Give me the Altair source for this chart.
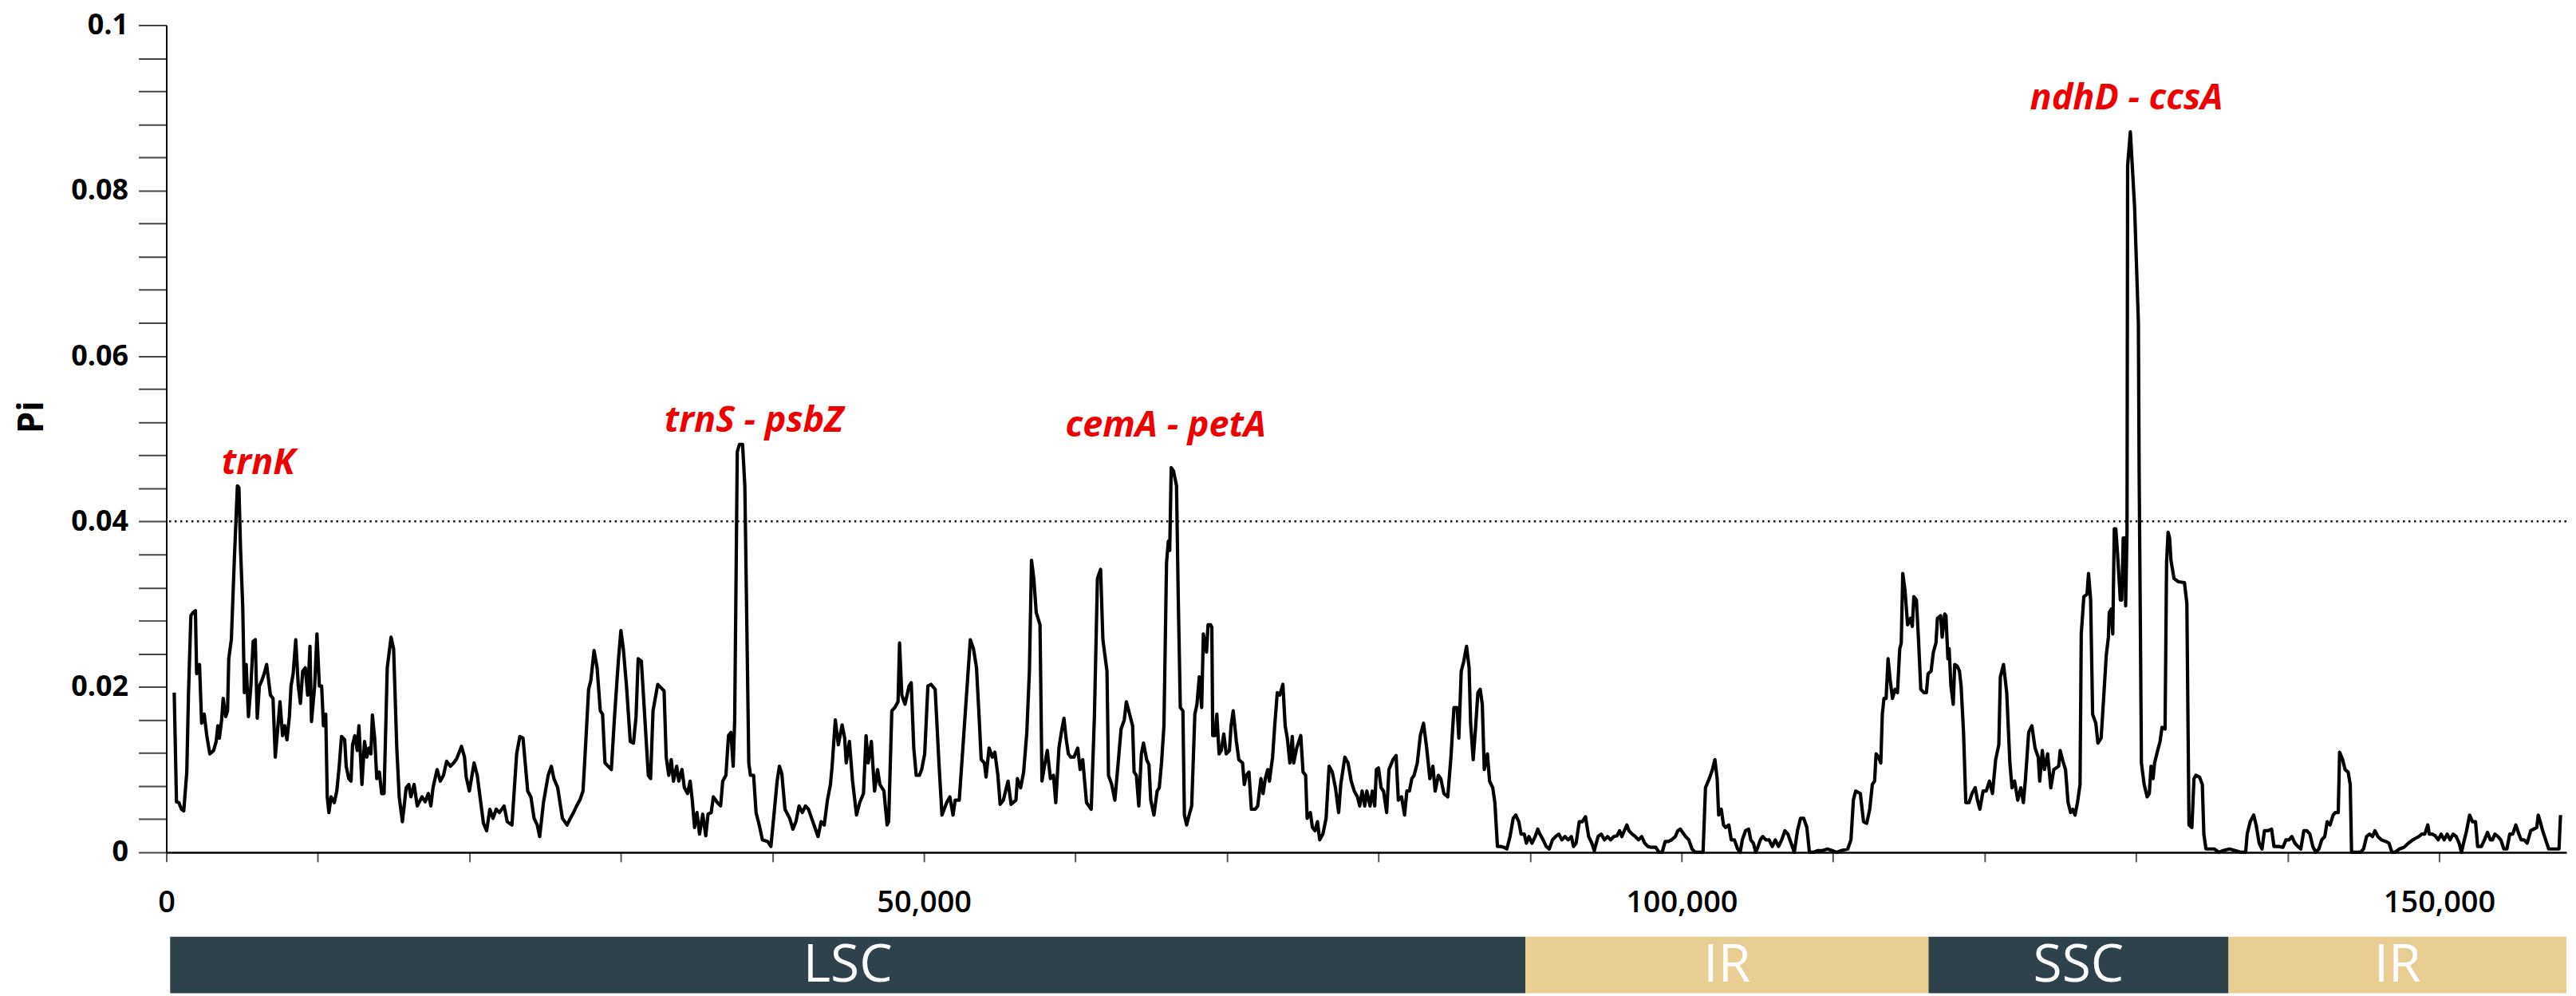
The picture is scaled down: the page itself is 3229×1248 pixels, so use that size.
import altair as alt
import pandas as pd

# ---------------- data (position in bp, nucleotide diversity Pi) ----------------
lsc_pos = [520, 670, 830, 1000, 1150, 1350, 1460, 1620, 1770, 1920, 2000, 2190, 2330, 2500, 2670, 2870, 3120, 3290, 3400, 3500,
           3650, 3750, 3920, 4040, 4120, 4290, 4480, 4690, 4790, 4900, 5040, 5150, 5270, 5420, 5580, 5730, 5870, 6000, 6140, 6310,
           6460, 6620, 6870, 7040, 7190, 7500, 7670, 7810, 7960, 8120, 8230, 8370, 8540, 8710, 8850, 9000, 9170, 9330, 9480, 9580,
           9790, 9940, 10100, 10250, 10370, 10520, 10620, 10730, 10870, 11080, 11250, 11410, 11560, 11770, 11870, 12040, 12190, 12290, 12440, 12600,
           12710, 12910, 13080, 13230, 13370, 13500, 13600, 13750, 13890, 14060, 14210, 14370, 14580, 14830, 15000, 15210, 15370, 15580, 15830, 16000,
           16140, 16350, 16560, 16870, 17080, 17290, 17460, 17600, 17870, 18080, 18290, 18500, 18750, 18960, 19160, 19480, 19680, 19790, 20000, 20310,
           20520, 20730, 20930, 21140, 21350, 21560, 21770, 21980, 22290, 22500, 22810, 23120, 23330, 23540, 23850, 24060, 24270, 24480, 24640, 24890,
           25200, 25410, 25580, 25830, 26140, 26450, 26660, 26870, 27080, 27290, 27500, 27660, 27870, 28020, 28230, 28430, 28640, 28790, 28950, 29160,
           29370, 29580, 29830, 30000, 30160, 30370, 30620, 30830, 31000, 31140, 31350,
           31810, 31960, 32120, 32430, 32640, 32850, 32990, 33160, 33320, 33470, 33680, 33820, 34030, 34190, 34400, 34570, 34710, 34860, 35020, 35190,
           35400, 35600, 35750, 35960, 36100, 36370, 36580, 36720, 36930, 37100, 37260, 37410, 37510, 37680, 37820, 38030, 38180, 38340, 38440, 38550,
           38760, 38920, 39130, 39340, 39690, 39900, 40100, 40310, 40460, 40620, 40830, 41140, 41350, 41550, 41760, 41970, 42180, 42380, 42590, 42800,
           43010, 43210, 43420, 43630, 43830, 43940, 44150, 44350, 44600, 44770, 44870, 45080, 45290, 45550, 45760, 46010, 46180, 46320, 46530, 46740,
           46940, 47090, 47360, 47570, 47670, 47880, 48080, 48290, 48390, 48540, 48750, 49020, 49160, 49330, 49490, 49700, 49850, 50050, 50260, 50470,
           50740, 50990, 51190, 51500, 51710, 51920, 52060, 52330, 52640, 52850, 53060, 53270, 53470, 53640, 53780, 53990, 54100, 54300, 54510, 54680,
           54880, 55030, 55240, 55550, 55750, 56070, 56170, 56380, 56580, 56790, 56960, 57100, 57250, 57410, 57660, 57790, 57990, 58140, 58350, 58550,
           58700, 58910, 59070, 59240, 59380, 59530, 59690, 59900, 60150, 60310, 60480, 60730, 61040, 61250, 61450, 61660, 61810, 62080, 62180, 62390,
           62600, 62800, 63010, 63220, 63360,
           63770, 63870, 64020, 64180, 64350, 64490, 64700, 64850, 64970, 65180, 65390, 65530, 65680, 65840, 66010, 66130, 66220, 66320, 66470, 66670,
           66780, 66920, 67090, 67190, 67340, 67500, 67670, 67880, 68020, 68170, 68330, 68440, 68650, 68750, 68920, 69000, 69060, 69210, 69330, 69480,
           69620, 69790, 69950, 70160, 70270, 70410, 70620, 70780, 71030, 71140, 71280, 71450, 71610, 71860, 72030, 72240, 72380, 72530, 72690, 72800,
           73010, 73150, 73320, 73480, 73690, 73840, 73980, 74150, 74310, 74400, 74600, 74870, 75020, 75190, 75290, 75500, 75640, 75810, 75970, 76120,
           76330, 76540, 76740, 76950, 77160, 77370, 77510, 77780, 77990, 78200, 78400, 78610, 78760, 78920, 79090, 79230, 79440, 79590, 79750, 79860,
           80000, 80170, 80330, 80540, 80690, 80960, 81160, 81310, 81520, 81720, 81870, 82040, 82200, 82350, 82560, 82760, 82970, 83180, 83390, 83590,
           83740, 83950, 84110, 84320, 84570, 84780, 84980, 85190, 85300, 85460, 85630, 85810, 85980, 86080, 86250, 86400, 86560, 86710, 86850, 86980,
           87190, 87330, 87540, 87680, 87850, 88060, 88270, 88470, 88680, 88890, 89060, 89260, 89410, 89620]
lsc_pi = [.0193, .0061, .006, .0052, .005, .0097, .019, .0286, .029, .0292, .0216, .0227, .0156, .0167, .0141, .0119, .0123, .0134, .0153, .0138,
          .016, .0186, .0164, .0171, .0234, .0257, .035, .0443, .0441, .0365, .0298, .0193, .0227, .0164, .0201, .0255, .0257, .0162, .0201, .0208,
          .0216, .0227, .019, .0186, .0115, .0182, .0141, .0153, .0136, .0164, .0201, .0216, .0257, .0201, .018, .0219, .0223, .019, .0249, .0158,
          .0201, .0264, .0201, .0201, .0153, .0167, .0067, .0048, .0067, .006, .0074, .0104, .014, .0136, .0104, .0089, .0086, .013, .0141, .0123,
          .0153, .0082, .0134, .0115, .0126, .0119, .0166, .0138, .0089, .0097, .0071, .0071, .0223, .026, .0246, .0126, .0067, .0037, .0078, .0082,
          .0067, .0082, .0056, .0067, .0061, .0071, .0056, .0078, .01, .0086, .0093, .011, .0104, .0108, .0113, .0128, .0115, .0091, .0074, .0108,
          .0093, .0063, .0035, .0026, .0052, .0041, .0052, .0048, .0056, .0037, .0033, .0119, .014, .0138, .0074, .0067, .0041, .0033, .0019, .006,
          .0093, .0104, .0089, .0078, .0041, .0033, .0041, .0048, .0056, .0063, .0074, .0126, .0197, .0208, .0244, .0223, .0171, .0167, .0108, .0104,
          .01, .0164, .0231, .0268, .0246, .0201, .0134, .0132, .0164, .0234, .0231,
          .0093, .0089, .0171, .0203, .0199, .0195, .0115, .0093, .0112, .0086, .0104, .0086, .01, .0078, .0071, .0086, .0063, .003, .0048, .0022,
          .0046, .002, .0046, .0048, .0067, .006, .0056, .0086, .0093, .0141, .0145, .0104, .016, .0484, .0493, .0493, .0443, .0238, .0108, .0093,
          .0093, .0048, .0033, .0015, .0013, .0007, .0045, .0086, .0104, .0095, .0052, .0041, .0028, .0037, .0056, .0048, .0056, .0052, .0041, .003,
          .0019, .0037, .0033, .0063, .0082, .0104, .016, .013, .0154, .0138, .0108, .0134, .0086, .0045, .006, .0071, .0141, .0108, .0134, .0074,
          .01, .0082, .0074, .0033, .0037, .0171, .0175, .0182, .0253, .019, .0179, .0201, .0205, .0126, .0093, .0093, .01, .0119, .0201, .0203,
          .0197, .0108, .0045, .006, .0067, .0045, .0063, .0063, .0145, .0201, .0257, .0246, .0223, .0164, .0112, .0108, .0091, .0126, .0115, .0121,
          .0093, .0058, .0063, .0086, .0058, .0063, .0089, .0078, .0097, .0145, .0219, .0353, .0331, .029, .0275, .0086, .0108, .0123, .0089, .0093,
          .006, .0126, .0145, .0162, .0138, .0119, .0115, .0115, .0126, .01, .0112, .006, .0052, .0164, .0331, .0342, .0257, .0219, .0093, .0082,
          .0063, .0104, .0149, .016, .0182,
          .0153, .0097, .0093, .0056, .0119, .0132, .0112, .0106, .0063, .0045, .0074, .0078, .0108, .0153, .035, .0376, .0365, .0465, .0461, .0443,
          .0312, .0175, .0171, .0045, .0033, .0045, .0056, .0167, .0179, .0212, .0175, .0264, .0242, .0275, .0275, .0272, .0141, .0141, .0167, .0119,
          .0123, .0143, .0119, .0123, .0153, .0171, .0134, .0112, .0108, .0082, .0093, .0097, .0052, .0052, .0056, .0089, .0071, .0089, .01, .0086,
          .0115, .0153, .0193, .019, .0203, .0153, .0138, .0108, .014, .0108, .0126, .0141, .0097, .0093, .0041, .0048, .003, .0026, .0037, .0015,
          .0022, .0041, .0104, .0097, .0078, .0048, .0082, .0115, .0108, .0086, .0074, .0067, .0056, .0074, .0056, .0074, .0056, .0074, .0056, .01,
          .0102, .0078, .0074, .0048, .01, .0112, .0117, .0063, .0067, .0045, .0074, .0074, .0089, .0093, .0108, .0141, .0156, .0126, .0089, .0104,
          .0074, .0093, .0089, .0071, .0067, .0115, .0175, .0175, .0138, .0219, .0231, .0249, .0223, .0156, .0112, .0149, .0193, .0197, .0179, .01,
          .0119, .0086, .0078, .006, .0007, .0007, .0006, .0004, .0019, .0041, .0045, .0037, .0022, .0022]

irb_pos = [89760, 89930, 90130, 90340, 90510, 90650, 90860, 91070, 91270, 91480, 91690, 91900, 92100, 92310, 92520, 92730, 92870, 93040, 93250, 93450,
           93660, 93870, 94080, 94240, 94490, 94700, 94910, 95120, 95320, 95530, 95740, 95910, 96060, 96220, 96390, 96530, 96740, 96950, 97160, 97370,
           97570, 97780, 97990, 98300, 98510, 98720, 98920, 99130, 99340, 99590, 99750, 99920, 100070, 100270, 100480, 100690, 100900, 101210, 101420, 101580,
           101830, 102040, 102200, 102350, 102450, 102620, 102770, 102910, 103120, 103280, 103490, 103700, 103870, 104010, 104220, 104430, 104570, 104740, 104900, 105050,
           105200, 105360, 105570, 105780, 105990, 106190, 106400, 106610, 106820, 107020, 107230, 107440, 107650, 107850, 108060, 108270, 108440, 108690, 109000, 109310,
           109620, 109930, 110240, 110550, 110970, 111180, 111340, 111490, 111800, 112010, 112220, 112420, 112590, 112740, 112840, 113010, 113150, 113250, 113360, 113500,
           113630, 113770, 113920, 114090, 114250, 114400, 114500, 114600, 114750, 114920, 115120, 115230, 115330, 115500, 115640, 115790, 116000, 116160]
irb_pi = [.0011, .0019, .0011, .0019, .0028, .0022, .0015, .0007, .0004, .0015, .0019, .0022, .0015, .0019, .0015, .0019, .0007, .0011, .0037, .0037,
          .0043, .0019, .0011, .0002, .0019, .0022, .0015, .0019, .0015, .0019, .002, .0026, .0019, .0026, .0033, .0026, .0022, .0019, .0015, .0019,
          .0011, .0007, .0006, .0006, 0, 0, .0013, .0013, .0015, .0019, .0026, .0028, .0024, .0019, .0015, .0004, 0, 0, 0, .0078,
          .0089, .01, .0112, .0089, .0045, .0052, .0033, .003, .0033, .0015, .0015, .0004, 0, .0015, .0026, .0028, .0015, .0011, 0, .0007,
          .0015, .0019, .0015, .0015, .0007, .0015, .0007, .0015, .0026, .0022, .0011, 0, .0026, .0041, .0041, .003, 0, 0, .0002, .0002,
          .0004, .0002, 0, .0002, .0004, .0015, .0063, .0074, .0071, .0037, .0035, .0052, .0082, .0086, .0119, .0115, .0108, .0167, .0186, .0186,
          .0234, .0208, .0186, .0197, .0193, .0246, .0253, .0337, .0316, .0275, .0283, .0273, .0309, .0305, .0257, .0197, .0193, .0193]

ssc_pos = [116270, 116470, 116620, 116790, 116890, 117100, 117200, 117370, 117450, 117580, 117660, 117780, 117930, 118030, 118200, 118340, 118450, 118610, 118760, 118970,
           119170, 119380, 119530, 119690, 119900, 120110, 120320, 120520, 120730, 120940, 121040, 121250, 121460, 121670, 121810, 121980, 122190, 122390, 122560, 122700,
           122910, 123120, 123330, 123540, 123640, 123810, 123950, 124160, 124370, 124570, 124890, 124990, 125200, 125340, 125510, 125680, 125820, 125970, 126130, 126300,
           126380, 126550, 126760, 126860, 127000, 127130, 127340, 127480, 127690, 127870, 128030, 128170, 128230, 128360, 128460, 128560, 128660, 128760, 128960, 129050,
           129150, 129250, 129310, 129400, 129440, 129620, 129900, 130150, 130200, 130280, 130350, 130530, 130730, 130870, 130985, 131120, 131220, 131420, 131580, 131710,
           131910, 132010, 132110, 132210, 132300, 132500, 132800, 133190, 133350, 133430, 133490, 133680, 133820, 133940, 134180, 134370, 134470, 134610, 134870, 135160,
           135460, 135750]
ssc_pi = [.0216, .0219, .0242, .0253, .0283, .0286, .026, .0288, .0286, .0234, .0246, .0201, .0179, .0227, .0225, .0219, .0201, .0145, .006, .006,
          .0071, .0078, .0063, .0052, .0074, .0074, .0086, .0071, .0112, .013, .0212, .0227, .0193, .0108, .0078, .0086, .0063, .0078, .006, .0089,
          .0145, .0153, .0126, .0115, .0086, .0123, .01, .0119, .0078, .01, .0104, .0123, .0108, .01, .006, .0048, .0052, .0045, .006, .0082,
          .0264, .0309, .0312, .0337, .0305, .0167, .0156, .0132, .0138, .019, .0238, .026, .029, .0294, .0264, .0391, .0391, .0365, .0305, .0305,
          .038, .038, .0298, .0387, .083, .0871, .078, .064, .046, .0275, .0108, .0082, .0067, .0071, .0104, .0089, .0108, .0123, .0134, .0151,
          .0149, .035, .0387, .038, .0353, .0331, .0327, .0326, .0301, .0145, .0033, .003, .0089, .0093, .0091, .0082, .0022, .0004, .0004, .0004,
          0, .0002]

ira_pos = [136150, 136540, 136930, 137230, 137330, 137530, 137760, 137920, 138120, 138310, 138470, 138710, 138940, 139100, 139400, 139690, 139890, 140090, 140280, 140480,
           140680, 140870, 141070, 141270, 141470, 141660, 141860, 142060, 142250, 142450, 142610, 142800, 143000, 143140, 143340, 143430, 143630, 143790, 143990, 144130,
           144220, 144420, 144810, 145010, 145210, 145410, 145600, 145760, 145960, 146190, 146490, 146690, 146880, 147080, 147380, 147670, 147970, 148260, 148460, 148660,
           148850, 149050, 149250, 149350, 149540, 149740, 149940, 150130, 150330, 150530, 150720, 150920, 151120, 151320, 151470, 151610, 151810, 152010, 152200, 152400,
           152540, 152790, 152990, 153190, 153380, 153520, 153680, 153880, 154070, 154270, 154470, 154660, 154860, 155060, 155260, 155410, 155610, 155810, 156040, 156240,
           156440, 156540, 156670, 156830, 157030, 157230, 157420, 157620, 157910, 158010]
ira_pi = [.0004, .0002, 0, 0, .0022, .0037, .0045, .0033, .0011, .0004, .0026, .0026, .0028, .0007, .0007, .0006, .0015, .0015, .0019, .0011,
          .0007, .0004, .0026, .0026, .0022, .0007, 0, .0004, .0015, .0019, .0037, .0033, .0045, .0048, .0048, .0121, .0112, .01, .0097, .0082,
          0, 0, 0, .0004, .0019, .0022, .0019, .0026, .0019, .0015, .0013, .0011, 0, 0, .0004, .0006, .0011, .0015, .0017, .0019,
          .0022, .0022, .0033, .0022, .0022, .002, .0015, .0022, .0015, .0022, .0015, .0022, .0019, .0011, 0, .0011, .0026, .0045, .0037, .0037,
          .0007, .0007, .0015, .0024, .0015, .0015, .0022, .0019, .0015, .0004, .0004, .0022, .0022, .0033, .0022, .0015, .0015, .0011, .0026, .0028,
          .003, .0045, .0037, .0026, .0015, .0004, .0004, .0004, .0004, .0045]

# annotations
ann_labels = ["trnK", "trnS - psbZ", "cemA - petA", "ndhD - ccsA"]
ann_pos = [6070, 38780, 65960, 129360]
ann_pi = [0.0457, 0.0508, 0.0503, 0.0898]

# genome regions
region_labels = ["LSC", "IR", "SSC", "IR"]
region_start = [250, 89700, 116300, 136100]
region_end = [89700, 116300, 136100, 158400]

threshold = [0.04]
x_ticks = list(range(0, 150001, 10000))
y_ticks = [round(i * 0.004, 3) for i in range(26)]

# ---------------- build tables ----------------
line_df = pd.DataFrame({
    "pos": lsc_pos + irb_pos + ssc_pos + ira_pos,
    "pi": lsc_pi + irb_pi + ssc_pi + ira_pi,
})
ann_df = pd.DataFrame({"label": ann_labels, "pos": ann_pos, "pi": ann_pi})
reg_df = pd.DataFrame({"label": region_labels, "start": region_start, "end": region_end})
thr_df = pd.DataFrame({"pi": threshold})

FONT = "Open Sans"
xscale = alt.Scale(domain=[0, 158400], nice=False, zero=False)
yscale = alt.Scale(domain=[0, 0.1], nice=False)

x_axis = alt.Axis(
    values=x_ticks,
    labelExpr="datum.value % 50000 == 0 ? format(datum.value, ',') : ''",
    tickSize=12, tickColor="#555555", tickWidth=2,
    domainColor="black", domainWidth=2.5,
    labelFont=FONT, labelFontSize=38, labelFontWeight=600, labelColor="black",
    labelPadding=33, labelFlush=False, labelOverlap=False, grid=False,
)
y_axis = alt.Axis(
    values=y_ticks,
    labelExpr="abs(datum.value*50 - round(datum.value*50)) < 0.001 ? (datum.value == 0 ? '0' : format(datum.value, '.2~f')) : ''",
    tickSize=35, tickColor="#444444", tickWidth=2,
    domainColor="black", domainWidth=2,
    labelFont=FONT, labelFontSize=36, labelFontWeight="bold", labelColor="black",
    labelPadding=13, labelFlush=False, labelOverlap=False, grid=False,
    titleFont=FONT, titleFontSize=44, titleFontWeight="bold", titleColor="black",
    titleX=-155, titleY=492, titleAngle=270, titleBaseline="alphabetic", titleAlign="center",
)

line = alt.Chart(line_df).mark_line(color="black", strokeWidth=4.2, strokeJoin="round").encode(
    x=alt.X("pos:Q", scale=xscale, axis=x_axis, title=None),
    y=alt.Y("pi:Q", scale=yscale, axis=y_axis, title="Pi"),
)

rule = alt.Chart(thr_df).mark_rule(color="#111111", strokeWidth=2.5, strokeDash=[2.5, 4.5]).encode(
    y=alt.Y("pi:Q", scale=yscale, title="Pi"),
)

ann = alt.Chart(ann_df).mark_text(
    color="#EE0000", font=FONT, fontSize=45, fontWeight="bold", fontStyle="italic",
    align="center", baseline="alphabetic",
).encode(
    x=alt.X("pos:Q", scale=xscale, title=None),
    y=alt.Y("pi:Q", scale=yscale, title="Pi"),
    text="label:N",
)

bands = alt.Chart(reg_df).mark_rect().encode(
    x=alt.X("start:Q", scale=xscale, title=None),
    x2="end:Q",
    y=alt.value(1145),
    y2=alt.value(1216),
    color=alt.Color("label:N", scale=alt.Scale(domain=["LSC", "IR", "SSC"],
                                               range=["#2F414B", "#E8CE92", "#2F414B"]), legend=None),
)

band_text = alt.Chart(reg_df).transform_calculate(
    mid="(datum.start + datum.end) / 2"
).mark_text(color="white", font=FONT, fontSize=66, baseline="middle", align="center").encode(
    x=alt.X("mid:Q", scale=xscale, title=None),
    y=alt.value(1182),
    text="label:N",
)

chart = alt.layer(bands, band_text, rule, line, ann).properties(
    width=3016, height=1039,
    autosize=alt.AutoSizeParams(type="none"),
    padding={"left": 201, "top": 22, "right": 4, "bottom": 179},
).configure_view(stroke=None)

chart.save("out.html", embed_options={"renderer": "svg", "actions": False})
